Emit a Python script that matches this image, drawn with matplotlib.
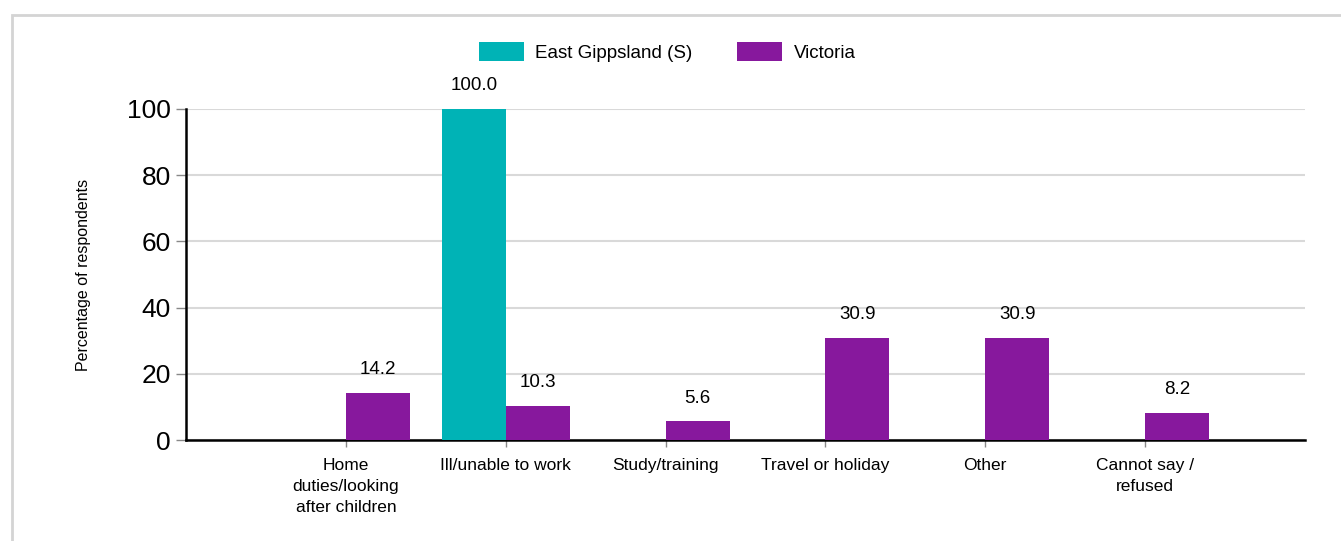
import numpy as np
import matplotlib
matplotlib.use("Agg")
import matplotlib.pyplot as plt
from matplotlib.patches import Rectangle

plt.rcParams['font.family'] = ['Liberation Sans', 'DejaVu Sans']

categories = ["Home\nduties/looking\nafter children", "Ill/unable to work", "Study/training",
              "Travel or holiday", "Other", "Cannot say /\nrefused"]
east_gippsland = [0, 100.0, 0, 0, 0, 0]
victoria = [14.2, 10.3, 5.6, 30.9, 30.9, 8.2]

teal = "#00B3B6"
purple = "#87189D"

fig = plt.figure(figsize=(13.41, 5.41), dpi=100)
# light frame around the chart
fig.patches.append(Rectangle((12 / 1341, -0.1), 1.2, 526 / 541 + 0.1, transform=fig.transFigure,
                             fill=False, edgecolor="#d4d4d4", linewidth=2))
ax = fig.add_axes([186 / 1341, 101 / 541, (1305 - 186) / 1341, (440 - 109) / 541])

x = np.arange(len(categories))
w = 0.4
b1 = ax.bar(x - w, east_gippsland, width=w, align='edge', color=teal, label="East Gippsland (S)", zorder=3)
b2 = ax.bar(x, victoria, width=w, align='edge', color=purple, label="Victoria", zorder=3)

for rect, v in zip(b1, east_gippsland):
    if v > 0:
        ax.text(rect.get_x() + rect.get_width() / 2, v + 4.5, f"{v:.1f}", ha='center', va='bottom', fontsize=13.5)
for rect, v in zip(b2, victoria):
    if v > 0:
        ax.text(rect.get_x() + rect.get_width() / 2, v + 4.5, f"{v:.1f}", ha='center', va='bottom', fontsize=13.5)

ax.set_xlim(-1, 6)
ax.set_ylim(0, 100)
ax.set_yticks([0, 20, 40, 60, 80, 100])
ax.tick_params(axis='y', labelsize=19, length=7, width=1, color="#888888", pad=4)
ax.set_xticks(x)
ax.set_xticklabels(categories, fontsize=12.5, linespacing=1.5)
ax.tick_params(axis='x', length=5, width=1, color="#888888", pad=8)
ax.grid(axis='y', color="#d9d9d9", linewidth=1.5, zorder=0)
ax.set_axisbelow(True)
for s in ['top', 'right']:
    ax.spines[s].set_visible(False)
ax.spines['left'].set_linewidth(1.8)
ax.spines['bottom'].set_linewidth(1.8)
ax.set_ylabel("Percentage of respondents", fontsize=11.5, labelpad=26)

fig.legend(handles=[b1, b2], loc='center', bbox_to_anchor=(0.4975, 1 - 52 / 541), ncol=2, frameon=False,
           fontsize=13.5, handlelength=2.4, handleheight=1.2, columnspacing=2.4, handletextpad=0.6)

fig.savefig("out.png", dpi=100)
